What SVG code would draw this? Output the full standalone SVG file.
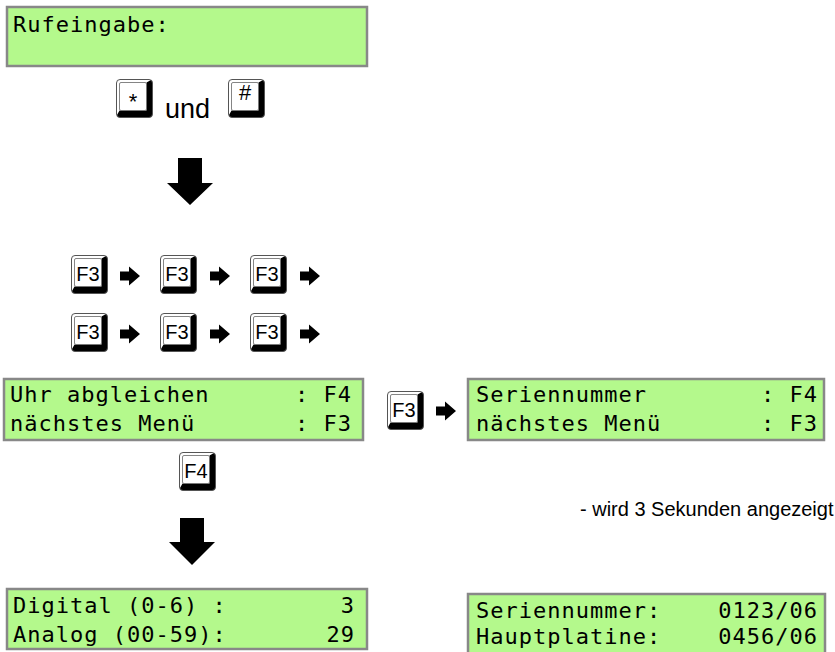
<svg xmlns="http://www.w3.org/2000/svg" width="835" height="652" viewBox="0 0 835 652">
<style>
.lcd{fill:#b4f98c;stroke:#888;stroke-width:2.5}
.lt{font-family:"DejaVu Sans Mono","Liberation Mono",monospace;font-size:22px;letter-spacing:1.0px;fill:#000;white-space:pre}
.kl{font-family:"Liberation Sans",Arial,sans-serif;font-size:20px;fill:#000;text-anchor:middle}
.ks{font-family:"Liberation Sans",Arial,sans-serif;font-size:22px;fill:#000;text-anchor:middle}
.tx{font-family:"Liberation Sans",Arial,sans-serif;fill:#000}
.ar{fill:#000}
</style>
<defs>
<g id="key">
<rect x="0.5" y="0.5" width="36" height="38" rx="3.5" fill="#fff"/>
<path d="M30.5,3.5 L35,1 Q36.5,1.5 36.5,4 L36.5,35 Q36.5,38.5 33,38.5 L4,38.5 Q1,38.5 1,36 L3.5,31.5 L30.5,31.5 Z" fill="#000"/>
<rect x="0.5" y="0.5" width="36" height="38" rx="3.5" fill="none" stroke="#555" stroke-width="1"/>
<rect x="3.5" y="3.5" width="27" height="28" rx="1.5" fill="#fff" stroke="#666" stroke-width="0.8"/>
</g>
<path id="rarr" d="M0,-4.5 H9 V-9.5 L20,0 L9,9.5 V4.5 H0 Z"/>
</defs>

<g id="lcd-rufeingabe">
<rect class="lcd" x="7" y="7" width="360" height="59"/>
<text class="lt" x="13" y="32" xml:space="preserve">Rufeingabe:</text>
</g>

<g id="key-star">
<use href="#key" x="116" y="79"/>
<text class="ks" x="133" y="109">*</text>
</g>
<g id="label-und">
<text class="tx" x="165" y="118" font-size="27">und</text>
</g>
<g id="key-hash">
<use href="#key" x="228" y="79"/>
<text class="ks" x="245" y="100">#</text>
</g>

<g id="f3-row1">
<use href="#key" x="71" y="255"/><text class="kl" x="88" y="281">F3</text>
<use href="#key" x="160" y="255"/><text class="kl" x="177" y="281">F3</text>
<use href="#key" x="250" y="255"/><text class="kl" x="267" y="281">F3</text>
</g>
<g id="f3-row2">
<use href="#key" x="71" y="313"/><text class="kl" x="88" y="339">F3</text>
<use href="#key" x="160" y="313"/><text class="kl" x="177" y="339">F3</text>
<use href="#key" x="250" y="313"/><text class="kl" x="267" y="339">F3</text>
</g>

<g id="lcd-uhr">
<rect class="lcd" x="4" y="379" width="359" height="61"/>
<text class="lt" x="10" y="402" xml:space="preserve">Uhr abgleichen      : F4</text>
<text class="lt" x="10" y="431" xml:space="preserve">nächstes Menü       : F3</text>
</g>

<g id="key-f3-side">
<use href="#key" x="387" y="391"/><text class="kl" x="404" y="417">F3</text>
</g>

<g id="lcd-serien-menu">
<rect class="lcd" x="468" y="379" width="356" height="61"/>
<text class="lt" x="476" y="402" xml:space="preserve">Seriennummer        : F4</text>
<text class="lt" x="476" y="431" xml:space="preserve">nächstes Menü       : F3</text>
</g>

<g id="key-f4">
<use href="#key" x="179" y="452"/><text class="kl" x="196" y="478">F4</text>
</g>

<g id="note">
<text class="tx" x="580" y="516" font-size="20">- wird 3 Sekunden angezeigt</text>
</g>

<g id="lcd-digital">
<rect class="lcd" x="7" y="589" width="360" height="60"/>
<text class="lt" x="13" y="613" xml:space="preserve">Digital (0-6) :        3</text>
<text class="lt" x="13" y="642" xml:space="preserve">Analog (00-59):       29</text>
</g>

<g id="lcd-serien-nr">
<rect class="lcd" x="468" y="594" width="357" height="61"/>
<text class="lt" x="476" y="618" xml:space="preserve">Seriennummer:    0123/06</text>
<text class="lt" x="476" y="644" xml:space="preserve">Hauptplatine:    0456/06</text>
</g>

<g id="connectors">
<path class="ar" d="M178,158 H202 V183 H213 L190,205 L167,183 H178 Z"/>
<path class="ar" d="M180,518 H204 V542 H215 L192,565 L169,542 H180 Z"/>
<use href="#rarr" x="120" y="276" class="ar"/>
<use href="#rarr" x="210" y="276" class="ar"/>
<use href="#rarr" x="300" y="276" class="ar"/>
<use href="#rarr" x="120" y="334" class="ar"/>
<use href="#rarr" x="210" y="334" class="ar"/>
<use href="#rarr" x="300" y="334" class="ar"/>
<use href="#rarr" x="436" y="411" class="ar"/>
</g>
</svg>
